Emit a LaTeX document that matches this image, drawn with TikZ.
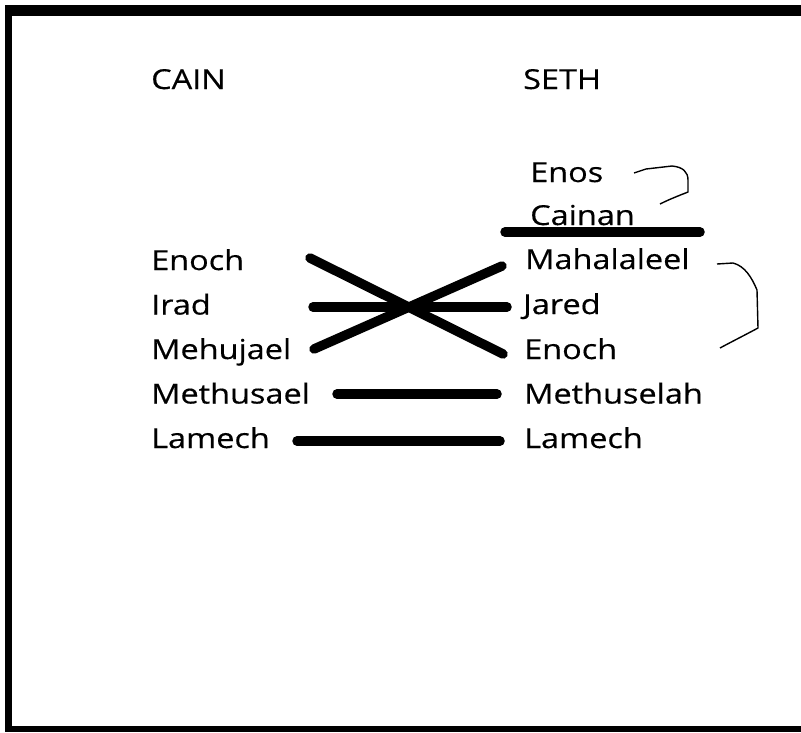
\documentclass[tikz,border=0pt]{standalone}
\usepackage{fontspec}
\setmainfont{Open Sans}[FakeStretch=1.18,FakeBold=0.4]
\begin{document}
\begin{tikzpicture}[x=1pt,y=-1pt,
  lbl/.style={anchor=base west,inner sep=0pt,font=\fontsize{27.5}{30}\selectfont,text=black},
  bar/.style={line width=9.5pt,line cap=round},
  brace/.style={line width=1.4pt,line join=round}]
\useasboundingbox (0,0) rectangle (801,732);
% frame
\fill (5,5) rectangle (801,15.5);
\fill (5,5) rectangle (12,732);
\fill (5,726) rectangle (801,732);
% headings
\node[lbl] (cain) at (151,89) {CAIN};
\node[lbl] (seth) at (523,89) {SETH};
% left column
\node[lbl] (enochL) at (151,270) {Enoch};
\node[lbl] (irad) at (151,314.5) {Irad};
\node[lbl] (mehujael) at (151,359) {Mehujael};
\node[lbl] (methusael) at (151,403.5) {Methusael};
\node[lbl] (lamechL) at (151,448) {Lamech};
% right column
\node[lbl] (enos) at (530,182) {Enos};
\node[lbl] (cainan) at (530,225) {Cainan};
\node[lbl] (mahalaleel) at (525,269) {Mahalaleel};
\node[lbl] (jared) at (523,314) {Jared};
\node[lbl] (enochR) at (524,359) {Enoch};
\node[lbl] (methuselah) at (524,403.5) {Methuselah};
\node[lbl] (lamechR) at (524,448) {Lamech};
% connector end points
\coordinate (a1) at (310,258);
\coordinate (a2) at (503,354);
\coordinate (b1) at (314,349);
\coordinate (b2) at (502,266);
\coordinate (c1) at (313,307);
\coordinate (c2) at (507,307);
\coordinate (d1) at (337,394);
\coordinate (d2) at (497,394);
\coordinate (e1) at (297,441);
\coordinate (e2) at (500,441);
\coordinate (f1) at (505,232);
\coordinate (f2) at (700,232);
% thick strokes
\draw[bar] (a1) -- (a2);
\draw[bar] (b1) -- (b2);
\draw[bar] (c1) -- (c2);
\draw[bar] (d1) -- (d2);
\draw[bar] (e1) -- (e2);
\draw[bar] (f1) -- (f2);
% braces
\coordinate (g1) at (634,173);
\coordinate (g2) at (660,204);
\draw[brace] (g1) -- (646,169) -- (672,166) .. controls (683,167) and (688,172) .. (688,180)
  -- (688,192) .. controls (678,196) and (670,199) .. (g2);
\coordinate (h1) at (717,264);
\coordinate (h2) at (720,348);
\draw[brace] (h1) -- (733,263) .. controls (745,266) and (752,278) .. (757,290)
  -- (758,328) .. controls (745,335) and (733,341) .. (h2);
\end{tikzpicture}
\end{document}
